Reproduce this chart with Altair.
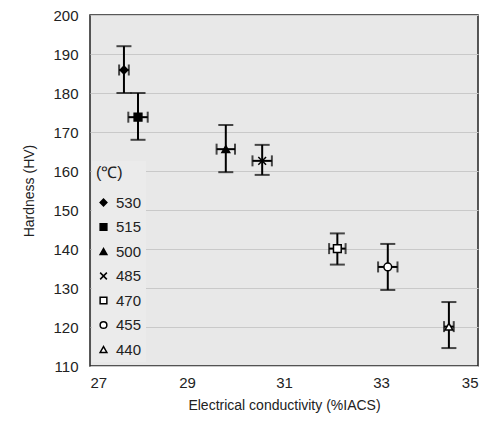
import altair as alt
import pandas as pd

temps = ["530", "515", "500", "485", "470", "455", "440"]
conductivity = [27.70, 27.99, 29.80, 30.55, 32.10, 33.14, 34.40]
cond_err = [0.10, 0.20, 0.19, 0.20, 0.17, 0.20, 0.10]
hardness = [185.9, 173.8, 165.6, 162.6, 140.1, 135.4, 120.1]
hard_lo = [180.0, 168.0, 159.7, 159.0, 136.0, 129.5, 114.6]
hard_hi = [192.0, 180.0, 171.8, 166.7, 144.0, 141.3, 126.4]

shapes = ["diamond", "square", "triangle-up", "M-1,-1L1,1M-1,1L1,-1",
          "square", "circle", "triangle-up"]
fills = ["black", "black", "black", "black", "white", "white", "white"]

df = pd.DataFrame({
    "temp": temps,
    "ec": conductivity,
    "ec_lo": [c - e for c, e in zip(conductivity, cond_err)],
    "ec_hi": [c + e for c, e in zip(conductivity, cond_err)],
    "hv": hardness,
    "hv_lo": hard_lo,
    "hv_hi": hard_hi,
})

FONT = "Liberation Sans"

xscale = alt.Scale(domain=[27, 35], nice=False, zero=False)
yscale = alt.Scale(domain=[110, 200], nice=False, zero=False)

xaxis = alt.Axis(values=[27, 29, 31, 33, 35], title="Electrical conductivity (%IACS)",
                 grid=False, ticks=False, domain=False, labelPadding=9,
                 labelFontSize=15, titleFontSize=14, titlePadding=8,
                 titleFontWeight="normal", labelColor="#222", titleColor="#222",
                 labelFont=FONT, titleFont=FONT, labelOverlap=False)
yaxis = alt.Axis(values=list(range(110, 201, 10)), title="Hardness (HV)",
                 grid=True, gridColor="#c9c9c9", gridWidth=1.2, ticks=False, domain=False,
                 labelPadding=12, labelFontSize=15, titleFontSize=14, titlePadding=16,
                 titleFontWeight="normal", labelColor="#222", titleColor="#222",
                 labelFont=FONT, titleFont=FONT, labelOverlap=False)


def X(field):
    return alt.X(field, scale=xscale, axis=xaxis)


def Y(field):
    return alt.Y(field, scale=yscale, axis=yaxis)


base = alt.Chart(df)

yerr = base.mark_rule(color="black", strokeWidth=2).encode(
    x=X("ec:Q"), y=Y("hv_lo:Q"), y2="hv_hi:Q")
ycap_lo = base.mark_tick(orient="horizontal", color="black", size=15, thickness=2).encode(
    x=X("ec:Q"), y=Y("hv_lo:Q"))
ycap_hi = base.mark_tick(orient="horizontal", color="black", size=15, thickness=2).encode(
    x=X("ec:Q"), y=Y("hv_hi:Q"))
xerr = base.mark_rule(color="black", strokeWidth=2).encode(
    x=X("ec_lo:Q"), x2="ec_hi:Q", y=Y("hv:Q"))
xcap_lo = base.mark_tick(orient="vertical", color="black", size=11, thickness=2).encode(
    x=X("ec_lo:Q"), y=Y("hv:Q"))
xcap_hi = base.mark_tick(orient="vertical", color="black", size=11, thickness=2).encode(
    x=X("ec_hi:Q"), y=Y("hv:Q"))

legend = alt.Legend(
    title="(\u2103)", orient="none", legendX=2, legendY=146,
    titleFontSize=16, titleFontWeight="normal", titleFont=FONT, titleColor="#222",
    titlePadding=14, titleAlign="left",
    labelFontSize=15, labelFont=FONT, labelColor="#222", labelOffset=5,
    symbolSize=45, symbolStrokeWidth=1.5,
    rowPadding=8.5, padding=4, fillColor="#ebebeb",
)

points = base.mark_point(size=60, strokeWidth=1.5, opacity=1).encode(
    x=X("ec:Q"), y=Y("hv:Q"),
    shape=alt.Shape("temp:N", scale=alt.Scale(domain=temps, range=shapes), legend=legend),
    fill=alt.Fill("temp:N", scale=alt.Scale(domain=temps, range=fills), legend=legend),
    stroke=alt.Stroke("temp:N", scale=alt.Scale(domain=temps, range=["black"] * 7), legend=legend),
)

chart = alt.layer(yerr, ycap_lo, ycap_hi, xerr, xcap_lo, xcap_hi, points).properties(
    width=388, height=351,
    autosize=alt.AutoSizeParams(type="none"),
    padding={"left": 82, "top": 7, "right": 8, "bottom": 54},
    background="white",
).configure_view(fill="#e8e8e8", stroke="#222", strokeWidth=1.5)

chart.save("out.html", embed_options={"renderer": "svg", "actions": False})
